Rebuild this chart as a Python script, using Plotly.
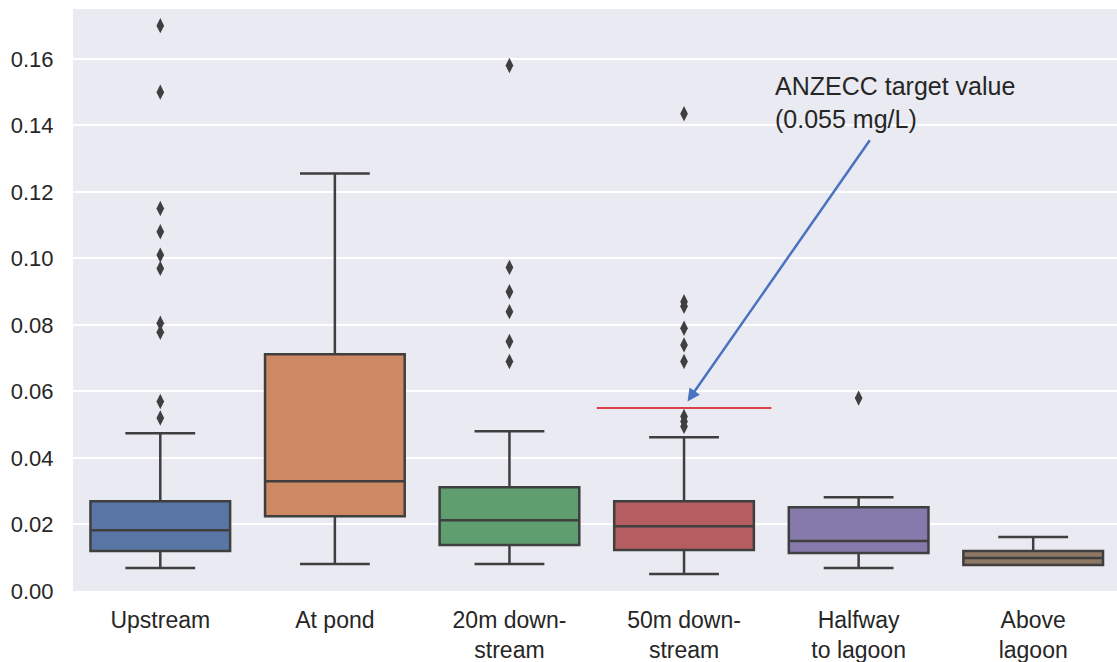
import plotly.graph_objects as go

categories = ["Upstream", "At pond", "20m down-<br>stream", "50m down-<br>stream",
              "Halfway<br>to lagoon", "Above<br>lagoon"]
lower_fence = [0.0069, 0.0081, 0.0081, 0.0051, 0.0069, 0.0078]
q1 = [0.0120, 0.0225, 0.0138, 0.0123, 0.0114, 0.0078]
median = [0.0183, 0.0330, 0.0213, 0.0195, 0.0150, 0.0099]
q3 = [0.0270, 0.0712, 0.0312, 0.0270, 0.0252, 0.0120]
upper_fence = [0.0474, 0.1255, 0.0480, 0.0462, 0.0282, 0.0162]
outliers = [
    [0.170, 0.150, 0.115, 0.108, 0.101, 0.097, 0.0805, 0.0778, 0.057, 0.052],
    [],
    [0.158, 0.0973, 0.090, 0.084, 0.075, 0.069],
    [0.1435, 0.087, 0.0856, 0.079, 0.074, 0.069, 0.0525, 0.051, 0.0495],
    [0.058],
    [],
]
colors = ["#5975a4", "#cc8963", "#5f9e6e", "#b55d60", "#857aab", "#8d7866"]
target_value = 0.055
target_x = [2.5, 3.5]

line_col = "#3f3f3f"
font_family = "Liberation Sans, Arial, sans-serif"

fig = go.Figure()
for i, cat in enumerate(categories):
    fig.add_trace(go.Box(
        x=[i], q1=[q1[i]], median=[median[i]], q3=[q3[i]],
        lowerfence=[lower_fence[i]], upperfence=[upper_fence[i]],
        width=0.8, whiskerwidth=0.5, fillcolor=colors[i],
        line=dict(color=line_col, width=2.5), boxpoints=False,
        showlegend=False, name=cat.replace("<br>", " "),
    ))
    if outliers[i]:
        fig.add_trace(go.Scatter(
            x=[i] * len(outliers[i]), y=outliers[i], mode="markers",
            marker=dict(symbol="diamond-tall", size=11, color=line_col),
            showlegend=False, hoverinfo="y",
        ))

fig.add_trace(go.Scatter(
    x=target_x, y=[target_value, target_value], mode="lines",
    line=dict(color="#d9434a", width=2), showlegend=False, hoverinfo="skip",
))

fig.add_annotation(
    x=3.02, y=0.0570, ax=4.07, ay=0.136, xref="x", yref="y", axref="x", ayref="y",
    text="", showarrow=True, arrowhead=2, arrowsize=1, arrowwidth=2.5,
    arrowcolor="#4a72c0", standoff=0,
)
fig.add_annotation(
    x=3.51, y=0.1469, xref="x", yref="y", xanchor="left", yanchor="middle",
    text="ANZECC target value<br>(0.055 mg/L)", showarrow=False, align="left",
    font=dict(size=25, color="#262626", family=font_family),
)

fig.update_layout(
    width=1117, height=662,
    margin=dict(l=73, r=0, t=9, b=71),
    paper_bgcolor="white", plot_bgcolor="#EAEAF2",
    boxmode="overlay",
    font=dict(family=font_family, size=22, color="#262626"),
)
fig.update_xaxes(
    range=[-0.5, 5.48], tickmode="array", tickvals=list(range(len(categories))),
    ticktext=categories, showgrid=False, zeroline=False,
    ticks="outside", ticklen=8, tickcolor="rgba(0,0,0,0)",
    tickfont=dict(size=23),
)
fig.update_yaxes(
    range=[0, 0.175], dtick=0.02, tickformat=".2f", showgrid=True,
    gridcolor="white", gridwidth=1.5, zeroline=False,
    ticks="outside", ticklen=14, tickcolor="rgba(0,0,0,0)",
    tickfont=dict(size=22),
)

fig.write_html("out.html")
